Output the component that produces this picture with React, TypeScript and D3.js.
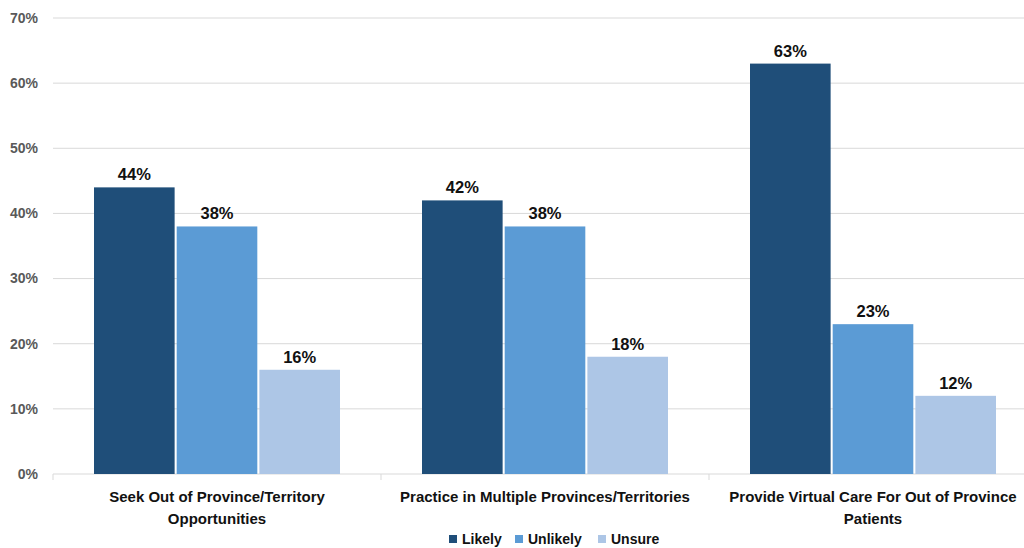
import React from "react";
import * as d3 from "d3";

const categories = [
  ["Seek Out of Province/Territory", "Opportunities"],
  ["Practice in Multiple Provinces/Territories"],
  ["Provide Virtual Care For Out of Province", "Patients"],
];
const seriesNames = ["Likely", "Unlikely", "Unsure"];
const likely = [44, 42, 63];
const unlikely = [38, 38, 23];
const unsure = [16, 18, 12];
const yTicks = [0, 10, 20, 30, 40, 50, 60, 70];
const colors = ["#1f4e79", "#5b9bd5", "#adc6e6"];

const W = 1024;
const H = 548;
const margin = { top: 18, right: -13, bottom: 74, left: 53 };

export default function App() {
  const series = [likely, unlikely, unsure];
  const x = d3
    .scaleBand<number>()
    .domain(categories.map((_, i) => i))
    .range([margin.left, W - margin.right])
    .padding(0);
  const inner = d3
    .scaleBand<number>()
    .domain(seriesNames.map((_, i) => i))
    .range([41, x.bandwidth() - 41])
    .paddingInner(0.025)
    .paddingOuter(0);
  const y = d3
    .scaleLinear()
    .domain([0, 70])
    .range([H - margin.bottom, margin.top]);

  const font = "'Liberation Sans', Arial, sans-serif";

  // legend layout
  const legendItems = [
    { name: "Likely", x: 449 },
    { name: "Unlikely", x: 515 },
    { name: "Unsure", x: 598 },
  ];

  return (
    <div style={{ position: "absolute", left: 0, top: 0 }}>
      <svg width={W} height={H} style={{ display: "block", background: "#fff" }}>
        {yTicks.map((t) => (
          <g key={t}>
            {t > 0 && (
              <line
                x1={margin.left}
                x2={W}
                y1={y(t)}
                y2={y(t)}
                stroke="#d9d9d9"
                strokeWidth={1}
              />
            )}
            <text
              x={38}
              y={y(t)}
              dy="0.35em"
              textAnchor="end"
              fontFamily={font}
              fontWeight="bold"
              fontSize={14}
              fill="#595959"
            >
              {t}%
            </text>
          </g>
        ))}
        {/* category axis */}
        <line
          x1={margin.left}
          x2={W}
          y1={y(0)}
          y2={y(0)}
          stroke="#d9d9d9"
          strokeWidth={1}
        />
        {categories.map((_, i) => (
          <line
            key={i}
            x1={x(i)!}
            x2={x(i)!}
            y1={y(0)}
            y2={y(0) + 6}
            stroke="#d9d9d9"
          />
        ))}
        {series.map((vals, s) =>
          vals.map((v, i) => {
            const bx = x(i)! + inner(s)!;
            return (
              <g key={`${s}-${i}`}>
                <rect
                  x={bx}
                  y={y(v)}
                  width={inner.bandwidth()}
                  height={y(0) - y(v)}
                  fill={colors[s]}
                />
                <text
                  x={bx + inner.bandwidth() / 2}
                  y={y(v) - 7}
                  textAnchor="middle"
                  fontFamily={font}
                  fontWeight="bold"
                  fontSize={16.5}
                  fill="#111"
                >
                  {v}%
                </text>
              </g>
            );
          })
        )}
        {categories.map((lines, i) => (
          <text
            key={i}
            x={x(i)! + x.bandwidth() / 2}
            y={502}
            textAnchor="middle"
            fontFamily={font}
            fontWeight="bold"
            fontSize={15}
            fill="#111"
          >
            {lines.map((l, k) => (
              <tspan key={k} x={x(i)! + x.bandwidth() / 2} dy={k === 0 ? 0 : 22}>
                {l}
              </tspan>
            ))}
          </text>
        ))}
        {legendItems.map((d, i) => (
          <g key={d.name}>
            <rect x={d.x} y={535} width={8} height={8} fill={colors[i]} />
            <text
              x={d.x + 13}
              y={544}
              fontFamily={font}
              fontWeight="bold"
              fontSize={14}
              fill="#111"
            >
              {d.name}
            </text>
          </g>
        ))}
      </svg>
    </div>
  );
}
